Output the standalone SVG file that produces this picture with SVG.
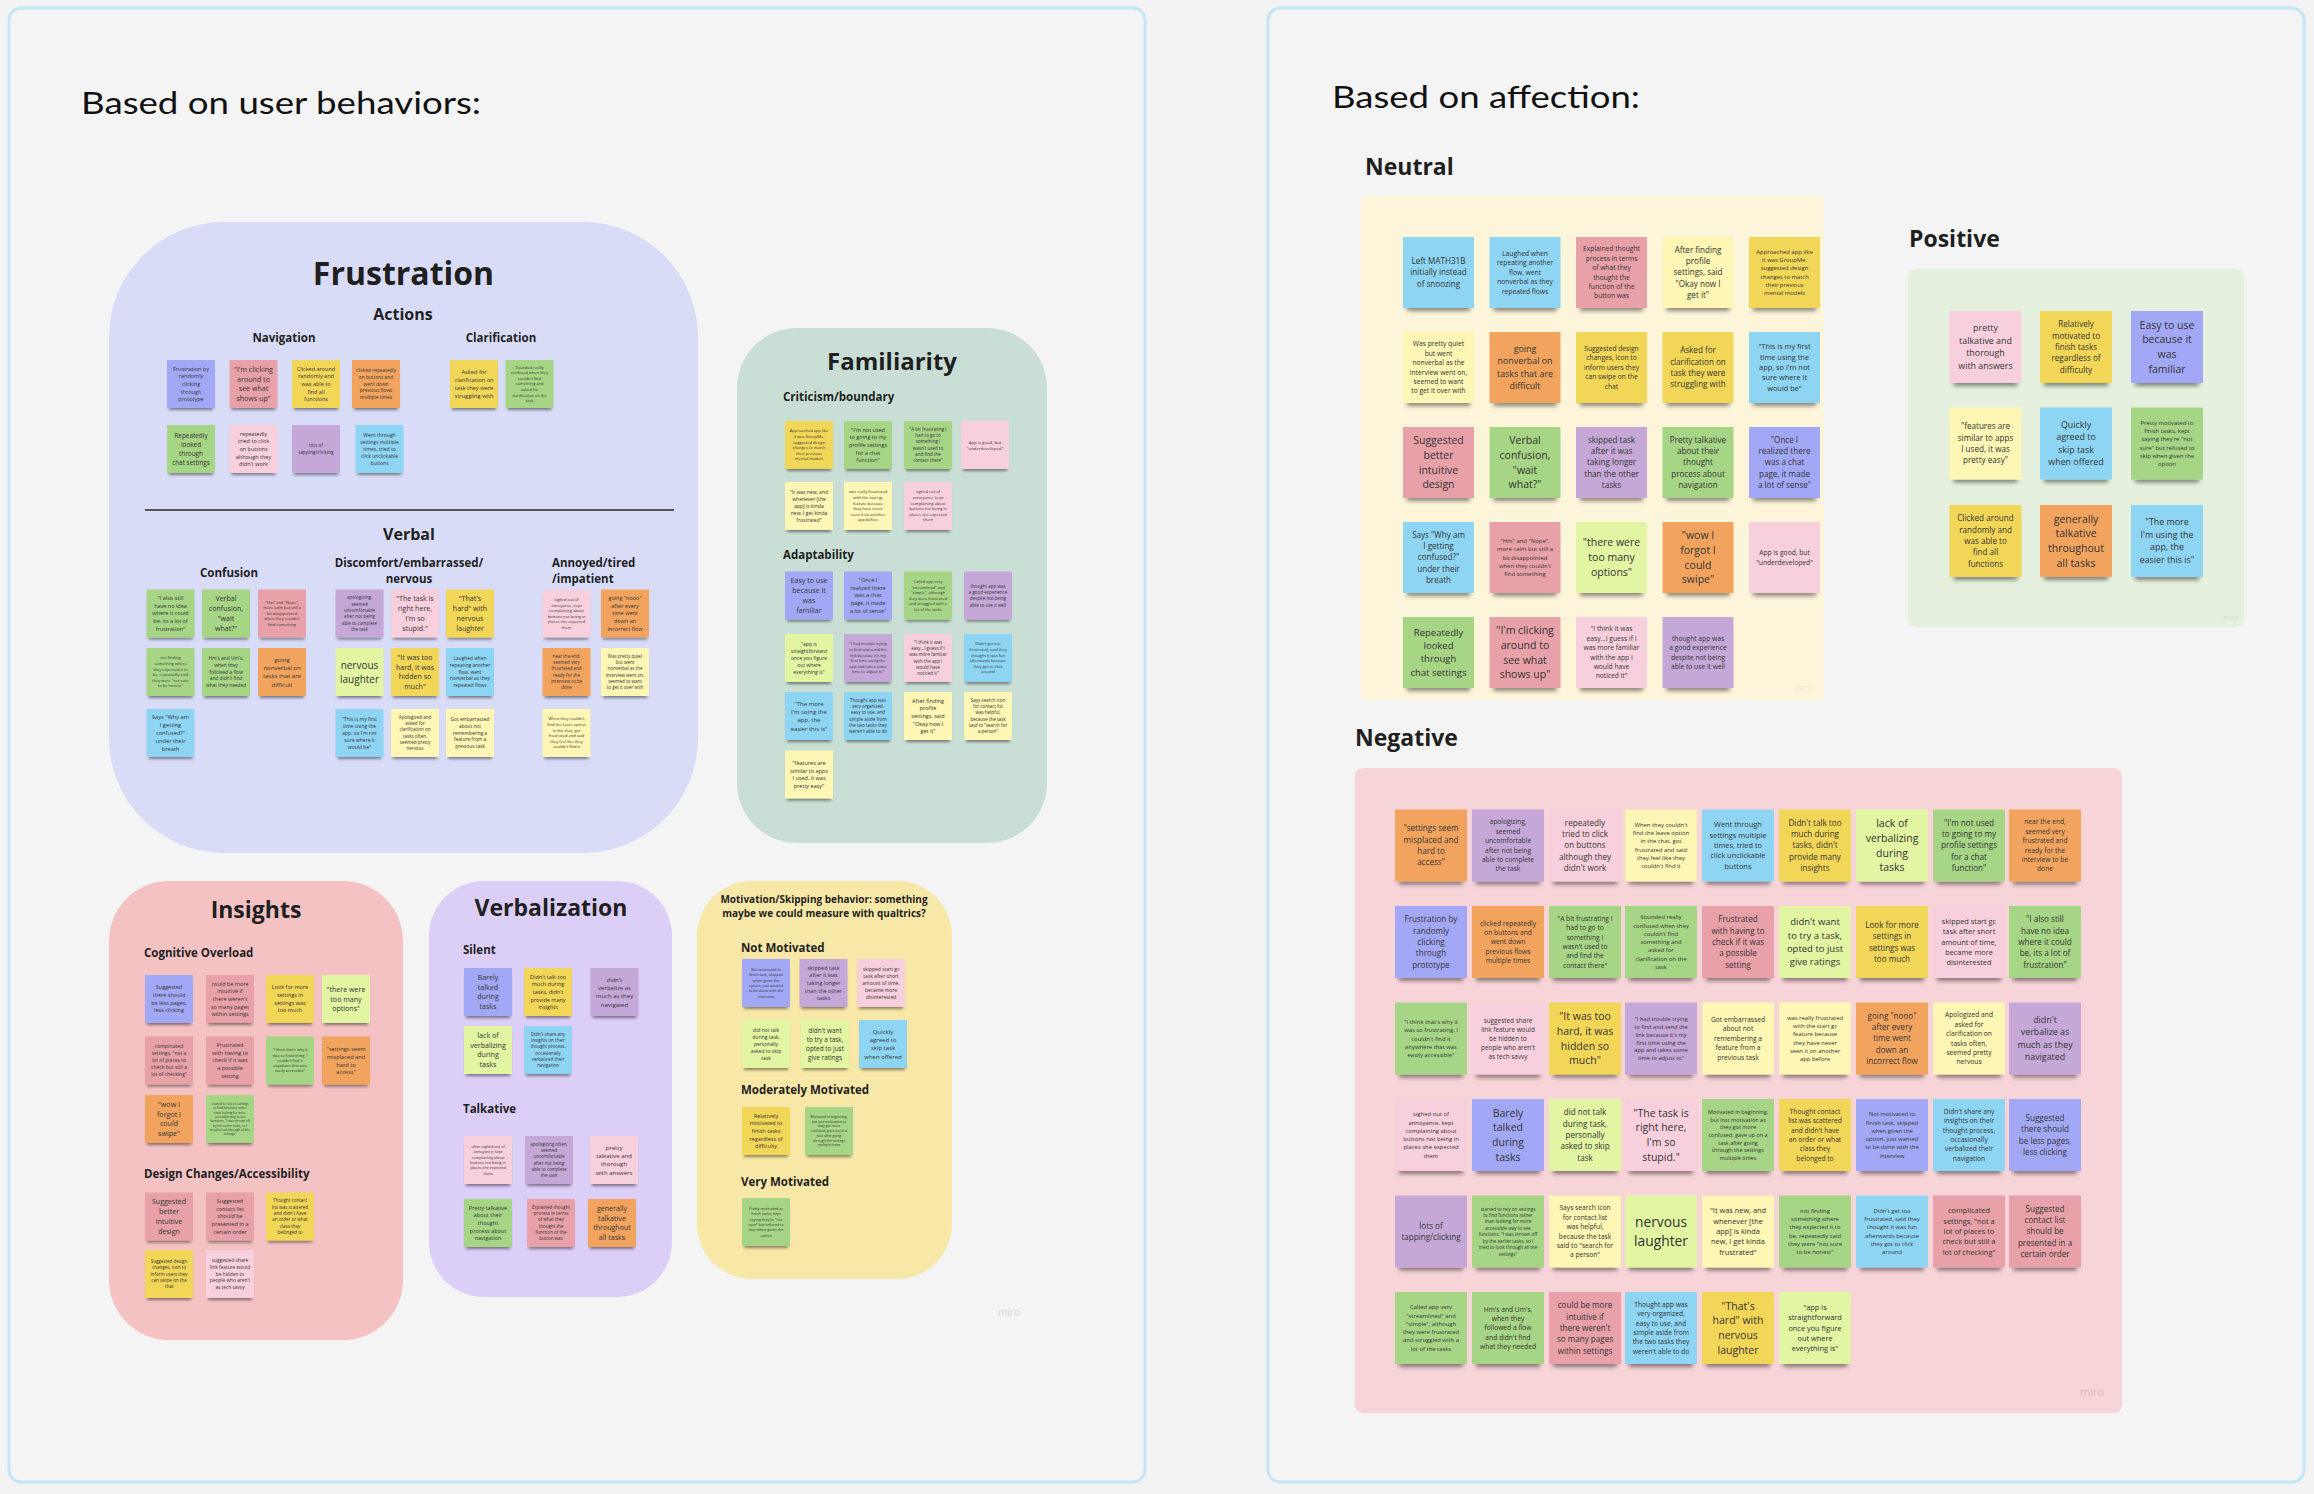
<svg xmlns="http://www.w3.org/2000/svg" width="2314" height="1494" viewBox="0 0 2314 1494">
<style>
text{font-family:"Open Sans","Noto Sans","Liberation Sans",sans-serif}
.h{font-weight:700;fill:#1f1f1f}
.ttl{font-family:Lato,"Open Sans",sans-serif;font-weight:400;fill:#111;font-size:31px}
.s text{fill:#333;text-anchor:middle}
.L use{filter:url(#sa)}
.R use{filter:url(#sb)}
.mi{fill:#d6d6d6;font-size:10px;text-anchor:middle}
.vi{fill:#a3a8f6}.bl{fill:#8ed5f3}.dp{fill:#e8a1a8}.ly{fill:#fdf6b4}.ye{fill:#f2d659}.or{fill:#f2a45e}.gr{fill:#a6d586}.li{fill:#e1f5a2}.pu{fill:#c6a8d8}.lp{fill:#f8d0dd}
.f31{font-size:3.1px}.f34{font-size:3.4px}.f38{font-size:3.8px}.f40{font-size:4px}.f43{font-size:4.3px}.f45{font-size:4.5px}.f46{font-size:4.6px}.f48{font-size:4.8px}.f50{font-size:5px}.f55{font-size:5.5px}.f57{font-size:5.7px}.f59{font-size:5.9px}.f60{font-size:6px}.f64{font-size:6.4px}.f67{font-size:6.7px}.f71{font-size:7.1px}.f74{font-size:7.4px}.f81{font-size:8.1px}.f89{font-size:8.9px}.f95{font-size:9.5px}.f100{font-size:10px}.f105{font-size:10.5px}.f138{font-size:13.8px}
</style>
<defs>
<rect id="A" x="-24" y="-24" width="48" height="48"/>
<rect id="B" x="-35.5" y="-35.5" width="71" height="71"/>
<rect id="C" x="-36" y="-36" width="72" height="72"/>
<filter id="sa" x="-20%" y="-20%" width="140%" height="150%">
<feMorphology in="SourceAlpha" operator="erode" radius="2"/>
<feGaussianBlur stdDeviation="1.4"/>
<feOffset dy="4" result="o"/>
<feFlood flood-color="#000" flood-opacity=".45"/>
<feComposite in2="o" operator="in"/>
<feMerge><feMergeNode/><feMergeNode in="SourceGraphic"/></feMerge>
</filter>
<filter id="sb" x="-20%" y="-20%" width="140%" height="150%">
<feMorphology in="SourceAlpha" operator="erode" radius="4"/>
<feGaussianBlur stdDeviation="2.2"/>
<feOffset dy="7" result="o"/>
<feFlood flood-color="#000" flood-opacity=".45"/>
<feComposite in2="o" operator="in"/>
<feMerge><feMergeNode/><feMergeNode in="SourceGraphic"/></feMerge>
</filter>
</defs>
<rect width="2314" height="1494" fill="#f3f3f3"/>
<g id="frame-left">
<rect x="9" y="8" width="1136" height="1474" rx="12" fill="#f4f4f4" stroke="#c4e6f7" stroke-width="3"/>
<text class="ttl" x="81" y="114" textLength="400" lengthAdjust="spacingAndGlyphs">Based on user behaviors:</text>
<text class="mi" x="1009" y="1316">miro</text>
</g>
<g id="frame-right">
<rect x="1268" y="8" width="1036" height="1474" rx="12" fill="#f4f4f4" stroke="#c4e6f7" stroke-width="3"/>
<text class="ttl" x="1332" y="108" textLength="308" lengthAdjust="spacingAndGlyphs">Based on affection:</text>
</g>
<g id="connectors"></g>

<g id="frustration" class="L">
<rect x="109" y="222" width="589" height="631" rx="115" fill="#d9dcf7"/>
<text class="h" x="403.5" y="285" font-size="32" text-anchor="middle">Frustration</text>
<text class="h" x="403" y="320" font-size="16" text-anchor="middle">Actions</text>
<text class="h" x="284" y="342" font-size="11.5" text-anchor="middle">Navigation</text>
<text class="h" x="501" y="342" font-size="11.5" text-anchor="middle">Clarification</text>
<line x1="145" y1="510" x2="674" y2="510" stroke="#555" stroke-width="2"/>
<text class="h" x="409" y="540" font-size="16" text-anchor="middle">Verbal</text>
<text class="h" x="229" y="577" font-size="11.5" text-anchor="middle">Confusion</text>
<text class="h" x="409" y="567" font-size="11.5" text-anchor="middle">Discomfort/embarrassed/</text>
<text class="h" x="409" y="583" font-size="11.5" text-anchor="middle">nervous</text>
<text class="h" x="552" y="567" font-size="11.5">Annoyed/tired</text>
<text class="h" x="552" y="583" font-size="11.5">/impatient</text>
<g id="fn1" class="s" transform="translate(191,384)"><use href="#A" class="vi"/><text class="f55"><tspan x="0" dy="-2.45em">Frustration by</tspan><tspan x="0" dy="1.4em">randomly</tspan><tspan x="0" dy="1.4em">clicking</tspan><tspan x="0" dy="1.4em">through</tspan><tspan x="0" dy="1.4em">prototype</tspan></text></g>
<g id="fn2" class="s" transform="translate(253.5,384)"><use href="#A" class="dp"/><text class="f71"><tspan x="0" dy="-1.75em">"I'm clicking</tspan><tspan x="0" dy="1.4em">around to</tspan><tspan x="0" dy="1.4em">see what</tspan><tspan x="0" dy="1.4em">shows up"</tspan></text></g>
<g id="fn3" class="s" transform="translate(316,384)"><use href="#A" class="ye"/><text class="f55"><tspan x="0" dy="-2.45em">Clicked around</tspan><tspan x="0" dy="1.4em">randomly and</tspan><tspan x="0" dy="1.4em">was able to</tspan><tspan x="0" dy="1.4em">find all</tspan><tspan x="0" dy="1.4em">functions</tspan></text></g>
<g id="fn4" class="s" transform="translate(376,384)"><use href="#A" class="or"/><text class="f48"><tspan x="0" dy="-2.45em">clicked repeatedly</tspan><tspan x="0" dy="1.4em">on buttons and</tspan><tspan x="0" dy="1.4em">went down</tspan><tspan x="0" dy="1.4em">previous flows</tspan><tspan x="0" dy="1.4em">multiple times</tspan></text></g>
<g id="fn5" class="s" transform="translate(191,449)"><use href="#A" class="gr"/><text class="f64"><tspan x="0" dy="-1.75em">Repeatedly</tspan><tspan x="0" dy="1.4em">looked</tspan><tspan x="0" dy="1.4em">through</tspan><tspan x="0" dy="1.4em">chat settings</tspan></text></g>
<g id="fn6" class="s" transform="translate(253.5,449)"><use href="#A" class="lp"/><text class="f55"><tspan x="0" dy="-2.45em">repeatedly</tspan><tspan x="0" dy="1.4em">tried to click</tspan><tspan x="0" dy="1.4em">on buttons</tspan><tspan x="0" dy="1.4em">although they</tspan><tspan x="0" dy="1.4em">didn't work</tspan></text></g>
<g id="fn7" class="s" transform="translate(316,449)"><use href="#A" class="pu"/><text class="f48"><tspan x="0" dy="-.35em">lots of</tspan><tspan x="0" dy="1.4em">tapping/clicking</tspan></text></g>
<g id="fn8" class="s" transform="translate(379.5,449)"><use href="#A" class="bl"/><text class="f50"><tspan x="0" dy="-2.45em">Went through</tspan><tspan x="0" dy="1.4em">settings multiple</tspan><tspan x="0" dy="1.4em">times, tried to</tspan><tspan x="0" dy="1.4em">click unclickable</tspan><tspan x="0" dy="1.4em">buttons</tspan></text></g>
<g id="fc1" class="s" transform="translate(474,384)"><use href="#A" class="ye"/><text class="f57"><tspan x="0" dy="-1.75em">Asked for</tspan><tspan x="0" dy="1.4em">clarification on</tspan><tspan x="0" dy="1.4em">task they were</tspan><tspan x="0" dy="1.4em">struggling with</tspan></text></g>
<g id="fc2" class="s" transform="translate(529.5,384)"><use href="#A" class="gr"/><text class="f40"><tspan x="0" dy="-3.85em">Sounded really</tspan><tspan x="0" dy="1.4em">confused when they</tspan><tspan x="0" dy="1.4em">couldn't find</tspan><tspan x="0" dy="1.4em">something and</tspan><tspan x="0" dy="1.4em">asked for</tspan><tspan x="0" dy="1.4em">clarification on the</tspan><tspan x="0" dy="1.4em">task</tspan></text></g>
<g id="vc1" class="s" transform="translate(170.5,613.5)"><use href="#A" class="gr"/><text class="f55"><tspan x="0" dy="-2.45em">"I also still</tspan><tspan x="0" dy="1.4em">have no idea</tspan><tspan x="0" dy="1.4em">where it could</tspan><tspan x="0" dy="1.4em">be, its a lot of</tspan><tspan x="0" dy="1.4em">frustration"</tspan></text></g>
<g id="vc2" class="s" transform="translate(226,613.5)"><use href="#A" class="gr"/><text class="f71"><tspan x="0" dy="-1.75em">Verbal</tspan><tspan x="0" dy="1.4em">confusion,</tspan><tspan x="0" dy="1.4em">"wait</tspan><tspan x="0" dy="1.4em">what?"</tspan></text></g>
<g id="vc3" class="s" transform="translate(282,613.5)"><use href="#A" class="dp"/><text class="f40"><tspan x="0" dy="-2.45em">"Hm" and "Nope",</tspan><tspan x="0" dy="1.4em">more calm but still a</tspan><tspan x="0" dy="1.4em">bit disappointed</tspan><tspan x="0" dy="1.4em">when they couldn't</tspan><tspan x="0" dy="1.4em">find something</tspan></text></g>
<g id="vc4" class="s" transform="translate(170.5,672)"><use href="#A" class="gr"/><text class="f40"><tspan x="0" dy="-3.15em">not finding</tspan><tspan x="0" dy="1.4em">something where</tspan><tspan x="0" dy="1.4em">they expected it to</tspan><tspan x="0" dy="1.4em">be, repeatedly said</tspan><tspan x="0" dy="1.4em">they were "not sure</tspan><tspan x="0" dy="1.4em">to be honest"</tspan></text></g>
<g id="vc5" class="s" transform="translate(226,672)"><use href="#A" class="gr"/><text class="f48"><tspan x="0" dy="-2.45em">Hm's and Um's,</tspan><tspan x="0" dy="1.4em">when they</tspan><tspan x="0" dy="1.4em">followed a flow</tspan><tspan x="0" dy="1.4em">and didn't find</tspan><tspan x="0" dy="1.4em">what they needed</tspan></text></g>
<g id="vc6" class="s" transform="translate(282,672)"><use href="#A" class="or"/><text class="f60"><tspan x="0" dy="-1.75em">going</tspan><tspan x="0" dy="1.4em">nonverbal on</tspan><tspan x="0" dy="1.4em">tasks that are</tspan><tspan x="0" dy="1.4em">difficult</tspan></text></g>
<g id="vc7" class="s" transform="translate(170.5,733)"><use href="#A" class="bl"/><text class="f57"><tspan x="0" dy="-2.45em">Says "Why am</tspan><tspan x="0" dy="1.4em">I getting</tspan><tspan x="0" dy="1.4em">confused?"</tspan><tspan x="0" dy="1.4em">under their</tspan><tspan x="0" dy="1.4em">breath</tspan></text></g>
<g id="vd1" class="s" transform="translate(359.5,613.5)"><use href="#A" class="pu"/><text class="f45"><tspan x="0" dy="-3.15em">apologizing,</tspan><tspan x="0" dy="1.4em">seemed</tspan><tspan x="0" dy="1.4em">uncomfortable</tspan><tspan x="0" dy="1.4em">after not being</tspan><tspan x="0" dy="1.4em">able to complete</tspan><tspan x="0" dy="1.4em">the task</tspan></text></g>
<g id="vd2" class="s" transform="translate(415,613.5)"><use href="#A" class="lp"/><text class="f71"><tspan x="0" dy="-1.75em">"The task is</tspan><tspan x="0" dy="1.4em">right here,</tspan><tspan x="0" dy="1.4em">I'm so</tspan><tspan x="0" dy="1.4em">stupid."</tspan></text></g>
<g id="vd3" class="s" transform="translate(470,613.5)"><use href="#A" class="ye"/><text class="f71"><tspan x="0" dy="-1.75em">"That's</tspan><tspan x="0" dy="1.4em">hard" with</tspan><tspan x="0" dy="1.4em">nervous</tspan><tspan x="0" dy="1.4em">laughter</tspan></text></g>
<g id="vd4" class="s" transform="translate(359.5,672)"><use href="#A" class="li"/><text class="f100"><tspan x="0" dy="-.35em">nervous</tspan><tspan x="0" dy="1.4em">laughter</tspan></text></g>
<g id="vd5" class="s" transform="translate(415,672)"><use href="#A" class="ye"/><text class="f71"><tspan x="0" dy="-1.75em">"It was too</tspan><tspan x="0" dy="1.4em">hard, it was</tspan><tspan x="0" dy="1.4em">hidden so</tspan><tspan x="0" dy="1.4em">much"</tspan></text></g>
<g id="vd6" class="s" transform="translate(470,672)"><use href="#A" class="bl"/><text class="f48"><tspan x="0" dy="-2.45em">Laughed when</tspan><tspan x="0" dy="1.4em">repeating another</tspan><tspan x="0" dy="1.4em">flow, went</tspan><tspan x="0" dy="1.4em">nonverbal as they</tspan><tspan x="0" dy="1.4em">repeated flows</tspan></text></g>
<g id="vd7" class="s" transform="translate(359.5,733)"><use href="#A" class="bl"/><text class="f50"><tspan x="0" dy="-2.45em">"This is my first</tspan><tspan x="0" dy="1.4em">time using the</tspan><tspan x="0" dy="1.4em">app, so I'm not</tspan><tspan x="0" dy="1.4em">sure where it</tspan><tspan x="0" dy="1.4em">would be"</tspan></text></g>
<g id="vd8" class="s" transform="translate(415,733)"><use href="#A" class="ly"/><text class="f45"><tspan x="0" dy="-3.15em">Apologized and</tspan><tspan x="0" dy="1.4em">asked for</tspan><tspan x="0" dy="1.4em">clarification on</tspan><tspan x="0" dy="1.4em">tasks often,</tspan><tspan x="0" dy="1.4em">seemed pretty</tspan><tspan x="0" dy="1.4em">nervous</tspan></text></g>
<g id="vd9" class="s" transform="translate(470,733)"><use href="#A" class="ly"/><text class="f48"><tspan x="0" dy="-2.45em">Got embarrassed</tspan><tspan x="0" dy="1.4em">about not</tspan><tspan x="0" dy="1.4em">remembering a</tspan><tspan x="0" dy="1.4em">feature from a</tspan><tspan x="0" dy="1.4em">previous task</tspan></text></g>
<g id="va1" class="s" transform="translate(566.5,613.5)"><use href="#A" class="lp"/><text class="f40"><tspan x="0" dy="-3.15em">sighed out of</tspan><tspan x="0" dy="1.4em">annoyance, kept</tspan><tspan x="0" dy="1.4em">complaining about</tspan><tspan x="0" dy="1.4em">buttons not being in</tspan><tspan x="0" dy="1.4em">places she expected</tspan><tspan x="0" dy="1.4em">them</tspan></text></g>
<g id="va2" class="s" transform="translate(625,613.5)"><use href="#A" class="or"/><text class="f55"><tspan x="0" dy="-2.45em">going "nooo"</tspan><tspan x="0" dy="1.4em">after every</tspan><tspan x="0" dy="1.4em">time went</tspan><tspan x="0" dy="1.4em">down an</tspan><tspan x="0" dy="1.4em">incorrect flow</tspan></text></g>
<g id="va3" class="s" transform="translate(566.5,672)"><use href="#A" class="or"/><text class="f45"><tspan x="0" dy="-3.15em">near the end,</tspan><tspan x="0" dy="1.4em">seemed very</tspan><tspan x="0" dy="1.4em">frustrated and</tspan><tspan x="0" dy="1.4em">ready for the</tspan><tspan x="0" dy="1.4em">interview to be</tspan><tspan x="0" dy="1.4em">done</tspan></text></g>
<g id="va4" class="s" transform="translate(625,672)"><use href="#A" class="ly"/><text class="f45"><tspan x="0" dy="-3.15em">Was pretty quiet</tspan><tspan x="0" dy="1.4em">but went</tspan><tspan x="0" dy="1.4em">nonverbal as the</tspan><tspan x="0" dy="1.4em">interview went on,</tspan><tspan x="0" dy="1.4em">seemed to want</tspan><tspan x="0" dy="1.4em">to get it over with</tspan></text></g>
<g id="va5" class="s" transform="translate(566.5,733)"><use href="#A" class="ly"/><text class="f40"><tspan x="0" dy="-3.15em">When they couldn't</tspan><tspan x="0" dy="1.4em">find the leave option</tspan><tspan x="0" dy="1.4em">in the chat, got</tspan><tspan x="0" dy="1.4em">frustrated and said</tspan><tspan x="0" dy="1.4em">they feel like they</tspan><tspan x="0" dy="1.4em">couldn't find it</tspan></text></g>
</g>

<g id="familiarity" class="L">
<rect x="737" y="328" width="310" height="515" rx="60" fill="#c9dfd5"/>
<text class="h" x="892" y="370" font-size="24" text-anchor="middle">Familiarity</text>
<text class="h" x="783" y="401" font-size="11.5">Criticism/boundary</text>
<text class="h" x="783" y="559" font-size="11.5">Adaptability</text>
<g id="fm1" class="s" transform="translate(809,445)"><use href="#A" class="ye"/><text class="f40"><tspan x="0" dy="-3.15em">Approached app like</tspan><tspan x="0" dy="1.4em">it was GroupMe,</tspan><tspan x="0" dy="1.4em">suggested design</tspan><tspan x="0" dy="1.4em">changes to match</tspan><tspan x="0" dy="1.4em">their previous</tspan><tspan x="0" dy="1.4em">mental models</tspan></text></g>
<g id="fm2" class="s" transform="translate(868,445)"><use href="#A" class="gr"/><text class="f55"><tspan x="0" dy="-2.45em">"I'm not used</tspan><tspan x="0" dy="1.4em">to going to my</tspan><tspan x="0" dy="1.4em">profile settings</tspan><tspan x="0" dy="1.4em">for a chat</tspan><tspan x="0" dy="1.4em">function"</tspan></text></g>
<g id="fm3" class="s" transform="translate(928,445)"><use href="#A" class="gr"/><text class="f45"><tspan x="0" dy="-3.15em">"A bit frustrating I</tspan><tspan x="0" dy="1.4em">had to go to</tspan><tspan x="0" dy="1.4em">something I</tspan><tspan x="0" dy="1.4em">wasn't used to</tspan><tspan x="0" dy="1.4em">and find the</tspan><tspan x="0" dy="1.4em">contact there"</tspan></text></g>
<g id="fm4" class="s" transform="translate(985,445)"><use href="#A" class="lp"/><text class="f43"><tspan x="0" dy="-.35em">App is good, but</tspan><tspan x="0" dy="1.4em">"underdeveloped"</tspan></text></g>
<g id="fm5" class="s" transform="translate(809,506)"><use href="#A" class="ly"/><text class="f50"><tspan x="0" dy="-2.45em">"It was new, and</tspan><tspan x="0" dy="1.4em">whenever [the</tspan><tspan x="0" dy="1.4em">app] is kinda</tspan><tspan x="0" dy="1.4em">new, I get kinda</tspan><tspan x="0" dy="1.4em">frustrated"</tspan></text></g>
<g id="fm6" class="s" transform="translate(868,506)"><use href="#A" class="ly"/><text class="f40"><tspan x="0" dy="-3.15em">was really frustrated</tspan><tspan x="0" dy="1.4em">with the start gc</tspan><tspan x="0" dy="1.4em">feature because</tspan><tspan x="0" dy="1.4em">they have never</tspan><tspan x="0" dy="1.4em">seen it on another</tspan><tspan x="0" dy="1.4em">app before</tspan></text></g>
<g id="fm7" class="s" transform="translate(928,506)"><use href="#A" class="lp"/><text class="f40"><tspan x="0" dy="-3.15em">sighed out of</tspan><tspan x="0" dy="1.4em">annoyance, kept</tspan><tspan x="0" dy="1.4em">complaining about</tspan><tspan x="0" dy="1.4em">buttons not being in</tspan><tspan x="0" dy="1.4em">places she expected</tspan><tspan x="0" dy="1.4em">them</tspan></text></g>
<g id="fa1" class="s" transform="translate(809,595.5)"><use href="#A" class="vi"/><text class="f71"><tspan x="0" dy="-1.75em">Easy to use</tspan><tspan x="0" dy="1.4em">because it</tspan><tspan x="0" dy="1.4em">was</tspan><tspan x="0" dy="1.4em">familiar</tspan></text></g>
<g id="fa2" class="s" transform="translate(868,595.5)"><use href="#A" class="vi"/><text class="f55"><tspan x="0" dy="-2.45em">"Once I</tspan><tspan x="0" dy="1.4em">realized there</tspan><tspan x="0" dy="1.4em">was a chat</tspan><tspan x="0" dy="1.4em">page, it made</tspan><tspan x="0" dy="1.4em">a lot of sense"</tspan></text></g>
<g id="fa3" class="s" transform="translate(928,595.5)"><use href="#A" class="gr"/><text class="f40"><tspan x="0" dy="-3.15em">Called app very</tspan><tspan x="0" dy="1.4em">"streamlined" and</tspan><tspan x="0" dy="1.4em">"simple", although</tspan><tspan x="0" dy="1.4em">they were frustrated</tspan><tspan x="0" dy="1.4em">and struggled with a</tspan><tspan x="0" dy="1.4em">lot of the tasks</tspan></text></g>
<g id="fa4" class="s" transform="translate(988,595.5)"><use href="#A" class="pu"/><text class="f45"><tspan x="0" dy="-1.75em">thought app was</tspan><tspan x="0" dy="1.4em">a good experience</tspan><tspan x="0" dy="1.4em">despite not being</tspan><tspan x="0" dy="1.4em">able to use it well</tspan></text></g>
<g id="fa5" class="s" transform="translate(809,658)"><use href="#A" class="li"/><text class="f50"><tspan x="0" dy="-2.45em">"app is</tspan><tspan x="0" dy="1.4em">straightforward</tspan><tspan x="0" dy="1.4em">once you figure</tspan><tspan x="0" dy="1.4em">out where</tspan><tspan x="0" dy="1.4em">everything is"</tspan></text></g>
<g id="fa6" class="s" transform="translate(868,658)"><use href="#A" class="pu"/><text class="f40"><tspan x="0" dy="-3.15em">"I had trouble trying</tspan><tspan x="0" dy="1.4em">to find and send the</tspan><tspan x="0" dy="1.4em">link because it's my</tspan><tspan x="0" dy="1.4em">first time using the</tspan><tspan x="0" dy="1.4em">app and takes some</tspan><tspan x="0" dy="1.4em">time to adjust to"</tspan></text></g>
<g id="fa7" class="s" transform="translate(928,658)"><use href="#A" class="lp"/><text class="f45"><tspan x="0" dy="-3.15em">"I think it was</tspan><tspan x="0" dy="1.4em">easy...I guess if I</tspan><tspan x="0" dy="1.4em">was more familiar</tspan><tspan x="0" dy="1.4em">with the app I</tspan><tspan x="0" dy="1.4em">would have</tspan><tspan x="0" dy="1.4em">noticed it"</tspan></text></g>
<g id="fa8" class="s" transform="translate(988,658)"><use href="#A" class="bl"/><text class="f40"><tspan x="0" dy="-3.15em">Didn't get too</tspan><tspan x="0" dy="1.4em">frustrated, said they</tspan><tspan x="0" dy="1.4em">thought it was fun</tspan><tspan x="0" dy="1.4em">afterwards because</tspan><tspan x="0" dy="1.4em">they got to click</tspan><tspan x="0" dy="1.4em">around</tspan></text></g>
<g id="fa9" class="s" transform="translate(809,716)"><use href="#A" class="bl"/><text class="f60"><tspan x="0" dy="-1.75em">"The more</tspan><tspan x="0" dy="1.4em">I'm using the</tspan><tspan x="0" dy="1.4em">app, the</tspan><tspan x="0" dy="1.4em">easier this is"</tspan></text></g>
<g id="fa10" class="s" transform="translate(868,716)"><use href="#A" class="bl"/><text class="f45"><tspan x="0" dy="-3.15em">Thought app was</tspan><tspan x="0" dy="1.4em">very organized,</tspan><tspan x="0" dy="1.4em">easy to use, and</tspan><tspan x="0" dy="1.4em">simple aside from</tspan><tspan x="0" dy="1.4em">the two tasks they</tspan><tspan x="0" dy="1.4em">weren't able to do</tspan></text></g>
<g id="fa11" class="s" transform="translate(928,716)"><use href="#A" class="ly"/><text class="f55"><tspan x="0" dy="-2.45em">After finding</tspan><tspan x="0" dy="1.4em">profile</tspan><tspan x="0" dy="1.4em">settings, said</tspan><tspan x="0" dy="1.4em">"Okay now I</tspan><tspan x="0" dy="1.4em">get it"</tspan></text></g>
<g id="fa12" class="s" transform="translate(988,716)"><use href="#A" class="ly"/><text class="f45"><tspan x="0" dy="-3.15em">Says search icon</tspan><tspan x="0" dy="1.4em">for contact list</tspan><tspan x="0" dy="1.4em">was helpful,</tspan><tspan x="0" dy="1.4em">because the task</tspan><tspan x="0" dy="1.4em">said to "search for</tspan><tspan x="0" dy="1.4em">a person"</tspan></text></g>
<g id="fa13" class="s" transform="translate(809,774.5)"><use href="#A" class="ly"/><text class="f55"><tspan x="0" dy="-1.75em">"features are</tspan><tspan x="0" dy="1.4em">similar to apps</tspan><tspan x="0" dy="1.4em">I used, it was</tspan><tspan x="0" dy="1.4em">pretty easy"</tspan></text></g>
</g>

<g id="insights" class="L">
<rect x="109" y="881" width="294" height="459" rx="60" fill="#f4c2c2"/>
<text class="h" x="256" y="918" font-size="23" text-anchor="middle">Insights</text>
<text class="h" x="144" y="957" font-size="11.5">Cognitive Overload</text>
<text class="h" x="144" y="1178" font-size="11.5">Design Changes/Accessibility</text>
<g id="ic1" class="s" transform="translate(169,999)"><use href="#A" class="vi"/><text class="f55"><tspan x="0" dy="-1.75em">Suggested</tspan><tspan x="0" dy="1.4em">there should</tspan><tspan x="0" dy="1.4em">be less pages,</tspan><tspan x="0" dy="1.4em">less clicking</tspan></text></g>
<g id="ic2" class="s" transform="translate(230,999)"><use href="#A" class="dp"/><text class="f55"><tspan x="0" dy="-2.45em">could be more</tspan><tspan x="0" dy="1.4em">intuitive if</tspan><tspan x="0" dy="1.4em">there weren't</tspan><tspan x="0" dy="1.4em">so many pages</tspan><tspan x="0" dy="1.4em">within settings</tspan></text></g>
<g id="ic3" class="s" transform="translate(290,999)"><use href="#A" class="ye"/><text class="f55"><tspan x="0" dy="-1.75em">Look for more</tspan><tspan x="0" dy="1.4em">settings in</tspan><tspan x="0" dy="1.4em">settings was</tspan><tspan x="0" dy="1.4em">too much</tspan></text></g>
<g id="ic4" class="s" transform="translate(346,999)"><use href="#A" class="li"/><text class="f71"><tspan x="0" dy="-1.05em">"there were</tspan><tspan x="0" dy="1.4em">too many</tspan><tspan x="0" dy="1.4em">options"</tspan></text></g>
<g id="ic5" class="s" transform="translate(169,1060.5)"><use href="#A" class="dp"/><text class="f50"><tspan x="0" dy="-2.45em">complicated</tspan><tspan x="0" dy="1.4em">settings, "not a</tspan><tspan x="0" dy="1.4em">lot of places to</tspan><tspan x="0" dy="1.4em">check but still a</tspan><tspan x="0" dy="1.4em">lot of checking"</tspan></text></g>
<g id="ic6" class="s" transform="translate(230,1060.5)"><use href="#A" class="dp"/><text class="f55"><tspan x="0" dy="-2.45em">Frustrated</tspan><tspan x="0" dy="1.4em">with having to</tspan><tspan x="0" dy="1.4em">check if it was</tspan><tspan x="0" dy="1.4em">a possible</tspan><tspan x="0" dy="1.4em">setting</tspan></text></g>
<g id="ic7" class="s" transform="translate(290,1060.5)"><use href="#A" class="gr"/><text class="f38"><tspan x="0" dy="-2.45em">"I think that's why it</tspan><tspan x="0" dy="1.4em">was so frustrating, I</tspan><tspan x="0" dy="1.4em">couldn't find it</tspan><tspan x="0" dy="1.4em">anywhere that was</tspan><tspan x="0" dy="1.4em">easily accessible"</tspan></text></g>
<g id="ic8" class="s" transform="translate(346,1060.5)"><use href="#A" class="or"/><text class="f57"><tspan x="0" dy="-1.75em">"settings seem</tspan><tspan x="0" dy="1.4em">misplaced and</tspan><tspan x="0" dy="1.4em">hard to</tspan><tspan x="0" dy="1.4em">access"</tspan></text></g>
<g id="ic9" class="s" transform="translate(169,1119)"><use href="#A" class="or"/><text class="f71"><tspan x="0" dy="-1.75em">"wow I</tspan><tspan x="0" dy="1.4em">forgot I</tspan><tspan x="0" dy="1.4em">could</tspan><tspan x="0" dy="1.4em">swipe"</tspan></text></g>
<g id="ic10" class="s" transform="translate(230,1119)"><use href="#A" class="gr"/><text class="f31"><tspan x="0" dy="-4.55em">started to rely on settings</tspan><tspan x="0" dy="1.4em">to find functions rather</tspan><tspan x="0" dy="1.4em">than looking for more</tspan><tspan x="0" dy="1.4em">accessible way to see</tspan><tspan x="0" dy="1.4em">functions, "I was thrown off</tspan><tspan x="0" dy="1.4em">by the earlier tasks, so I</tspan><tspan x="0" dy="1.4em">tried to look through all the</tspan><tspan x="0" dy="1.4em">settings"</tspan></text></g>
<g id="id1" class="s" transform="translate(169,1216.5)"><use href="#A" class="dp"/><text class="f71"><tspan x="0" dy="-1.75em">Suggested</tspan><tspan x="0" dy="1.4em">better</tspan><tspan x="0" dy="1.4em">intuitive</tspan><tspan x="0" dy="1.4em">design</tspan></text></g>
<g id="id2" class="s" transform="translate(230,1216.5)"><use href="#A" class="dp"/><text class="f55"><tspan x="0" dy="-2.45em">Suggested</tspan><tspan x="0" dy="1.4em">contact list</tspan><tspan x="0" dy="1.4em">should be</tspan><tspan x="0" dy="1.4em">presented in a</tspan><tspan x="0" dy="1.4em">certain order</tspan></text></g>
<g id="id3" class="s" transform="translate(290,1216.5)"><use href="#A" class="ye"/><text class="f45"><tspan x="0" dy="-3.15em">Thought contact</tspan><tspan x="0" dy="1.4em">list was scattered</tspan><tspan x="0" dy="1.4em">and didn't have</tspan><tspan x="0" dy="1.4em">an order or what</tspan><tspan x="0" dy="1.4em">class they</tspan><tspan x="0" dy="1.4em">belonged to</tspan></text></g>
<g id="id4" class="s" transform="translate(169,1274)"><use href="#A" class="ye"/><text class="f45"><tspan x="0" dy="-2.45em">Suggested design</tspan><tspan x="0" dy="1.4em">changes, icon to</tspan><tspan x="0" dy="1.4em">inform users they</tspan><tspan x="0" dy="1.4em">can swipe on the</tspan><tspan x="0" dy="1.4em">chat</tspan></text></g>
<g id="id5" class="s" transform="translate(230,1274)"><use href="#A" class="lp"/><text class="f48"><tspan x="0" dy="-2.45em">suggested share</tspan><tspan x="0" dy="1.4em">link feature would</tspan><tspan x="0" dy="1.4em">be hidden to</tspan><tspan x="0" dy="1.4em">people who aren't</tspan><tspan x="0" dy="1.4em">as tech savvy</tspan></text></g>
</g>

<g id="verbalization" class="L">
<rect x="429" y="881" width="243" height="416" rx="55" fill="#dbcef7"/>
<text class="h" x="551" y="916" font-size="23" text-anchor="middle">Verbalization</text>
<text class="h" x="463" y="954" font-size="11.5">Silent</text>
<text class="h" x="463" y="1113" font-size="11.5">Talkative</text>
<g id="vs1" class="s" transform="translate(488,992)"><use href="#A" class="vi"/><text class="f71"><tspan x="0" dy="-1.75em">Barely</tspan><tspan x="0" dy="1.4em">talked</tspan><tspan x="0" dy="1.4em">during</tspan><tspan x="0" dy="1.4em">tasks</tspan></text></g>
<g id="vs2" class="s" transform="translate(548,992)"><use href="#A" class="ye"/><text class="f55"><tspan x="0" dy="-2.45em">Didn't talk too</tspan><tspan x="0" dy="1.4em">much during</tspan><tspan x="0" dy="1.4em">tasks, didn't</tspan><tspan x="0" dy="1.4em">provide many</tspan><tspan x="0" dy="1.4em">insights</tspan></text></g>
<g id="vs3" class="s" transform="translate(614.5,992)"><use href="#A" class="pu"/><text class="f60"><tspan x="0" dy="-1.75em">didn't</tspan><tspan x="0" dy="1.4em">verbalize as</tspan><tspan x="0" dy="1.4em">much as they</tspan><tspan x="0" dy="1.4em">navigated</tspan></text></g>
<g id="vs4" class="s" transform="translate(488,1050)"><use href="#A" class="li"/><text class="f71"><tspan x="0" dy="-1.75em">lack of</tspan><tspan x="0" dy="1.4em">verbalizing</tspan><tspan x="0" dy="1.4em">during</tspan><tspan x="0" dy="1.4em">tasks</tspan></text></g>
<g id="vs5" class="s" transform="translate(548,1050)"><use href="#A" class="bl"/><text class="f45"><tspan x="0" dy="-3.15em">Didn't share any</tspan><tspan x="0" dy="1.4em">insights on their</tspan><tspan x="0" dy="1.4em">thought process,</tspan><tspan x="0" dy="1.4em">occasionally</tspan><tspan x="0" dy="1.4em">verbalized their</tspan><tspan x="0" dy="1.4em">navigation</tspan></text></g>
<g id="vt1" class="s" transform="translate(488,1160)"><use href="#A" class="lp"/><text class="f38"><tspan x="0" dy="-3.15em">often sighed out of</tspan><tspan x="0" dy="1.4em">annoyance, kept</tspan><tspan x="0" dy="1.4em">complaining about</tspan><tspan x="0" dy="1.4em">buttons not being in</tspan><tspan x="0" dy="1.4em">places she expected</tspan><tspan x="0" dy="1.4em">them</tspan></text></g>
<g id="vt2" class="s" transform="translate(549,1160)"><use href="#A" class="pu"/><text class="f45"><tspan x="0" dy="-3.15em">apologizing often,</tspan><tspan x="0" dy="1.4em">seemed</tspan><tspan x="0" dy="1.4em">uncomfortable</tspan><tspan x="0" dy="1.4em">after not being</tspan><tspan x="0" dy="1.4em">able to complete</tspan><tspan x="0" dy="1.4em">the task</tspan></text></g>
<g id="vt3" class="s" transform="translate(614,1160)"><use href="#A" class="lp"/><text class="f60"><tspan x="0" dy="-1.75em">pretty</tspan><tspan x="0" dy="1.4em">talkative and</tspan><tspan x="0" dy="1.4em">thorough</tspan><tspan x="0" dy="1.4em">with answers</tspan></text></g>
<g id="vt4" class="s" transform="translate(488,1223)"><use href="#A" class="gr"/><text class="f55"><tspan x="0" dy="-2.45em">Pretty talkative</tspan><tspan x="0" dy="1.4em">about their</tspan><tspan x="0" dy="1.4em">thought</tspan><tspan x="0" dy="1.4em">process about</tspan><tspan x="0" dy="1.4em">navigation</tspan></text></g>
<g id="vt5" class="s" transform="translate(551,1223)"><use href="#A" class="dp"/><text class="f45"><tspan x="0" dy="-3.15em">Explained thought</tspan><tspan x="0" dy="1.4em">process in terms</tspan><tspan x="0" dy="1.4em">of what they</tspan><tspan x="0" dy="1.4em">thought the</tspan><tspan x="0" dy="1.4em">function of the</tspan><tspan x="0" dy="1.4em">button was</tspan></text></g>
<g id="vt6" class="s" transform="translate(612,1223)"><use href="#A" class="or"/><text class="f71"><tspan x="0" dy="-1.75em">generally</tspan><tspan x="0" dy="1.4em">talkative</tspan><tspan x="0" dy="1.4em">throughout</tspan><tspan x="0" dy="1.4em">all tasks</tspan></text></g>
</g>

<g id="motivation" class="L">
<rect x="697" y="881" width="255" height="398" rx="55" fill="#f8e8a7"/>
<text class="h" x="824" y="903" font-size="10" text-anchor="middle">Motivation/Skipping behavior: something</text>
<text class="h" x="824" y="917" font-size="10" text-anchor="middle">maybe we could measure with qualtrics?</text>
<text class="h" x="741" y="952" font-size="11.5">Not Motivated</text>
<text class="h" x="741" y="1094" font-size="11.5">Moderately Motivated</text>
<text class="h" x="741" y="1186" font-size="11.5">Very Motivated</text>
<g id="mn1" class="s" transform="translate(766,983)"><use href="#A" class="vi"/><text class="f38"><tspan x="0" dy="-3.15em">Not motivated to</tspan><tspan x="0" dy="1.4em">finish task, skipped</tspan><tspan x="0" dy="1.4em">when given the</tspan><tspan x="0" dy="1.4em">option, just wanted</tspan><tspan x="0" dy="1.4em">to be done with the</tspan><tspan x="0" dy="1.4em">interview</tspan></text></g>
<g id="mn2" class="s" transform="translate(823.5,983)"><use href="#A" class="pu"/><text class="f55"><tspan x="0" dy="-2.45em">skipped task</tspan><tspan x="0" dy="1.4em">after it was</tspan><tspan x="0" dy="1.4em">taking longer</tspan><tspan x="0" dy="1.4em">than the other</tspan><tspan x="0" dy="1.4em">tasks</tspan></text></g>
<g id="mn3" class="s" transform="translate(881,983)"><use href="#A" class="lp"/><text class="f50"><tspan x="0" dy="-2.45em">skipped start gc</tspan><tspan x="0" dy="1.4em">task after short</tspan><tspan x="0" dy="1.4em">amount of time,</tspan><tspan x="0" dy="1.4em">became more</tspan><tspan x="0" dy="1.4em">disinterested</tspan></text></g>
<g id="mn4" class="s" transform="translate(766,1044)"><use href="#A" class="li"/><text class="f50"><tspan x="0" dy="-2.45em">did not talk</tspan><tspan x="0" dy="1.4em">during task,</tspan><tspan x="0" dy="1.4em">personally</tspan><tspan x="0" dy="1.4em">asked to skip</tspan><tspan x="0" dy="1.4em">task</tspan></text></g>
<g id="mn5" class="s" transform="translate(825,1044)"><use href="#A" class="li"/><text class="f64"><tspan x="0" dy="-1.75em">didn't want</tspan><tspan x="0" dy="1.4em">to try a task,</tspan><tspan x="0" dy="1.4em">opted to just</tspan><tspan x="0" dy="1.4em">give ratings</tspan></text></g>
<g id="mn6" class="s" transform="translate(883,1044)"><use href="#A" class="bl"/><text class="f60"><tspan x="0" dy="-1.75em">Quickly</tspan><tspan x="0" dy="1.4em">agreed to</tspan><tspan x="0" dy="1.4em">skip task</tspan><tspan x="0" dy="1.4em">when offered</tspan></text></g>
<g id="mm1" class="s" transform="translate(766,1131)"><use href="#A" class="ye"/><text class="f55"><tspan x="0" dy="-2.45em">Relatively</tspan><tspan x="0" dy="1.4em">motivated to</tspan><tspan x="0" dy="1.4em">finish tasks</tspan><tspan x="0" dy="1.4em">regardless of</tspan><tspan x="0" dy="1.4em">difficulty</tspan></text></g>
<g id="mm2" class="s" transform="translate(829,1131)"><use href="#A" class="gr"/><text class="f34"><tspan x="0" dy="-3.85em">Motivated in beginning,</tspan><tspan x="0" dy="1.4em">but lost motivation as</tspan><tspan x="0" dy="1.4em">they got more</tspan><tspan x="0" dy="1.4em">confused, gave up on a</tspan><tspan x="0" dy="1.4em">task after going</tspan><tspan x="0" dy="1.4em">through the settings</tspan><tspan x="0" dy="1.4em">multiple times</tspan></text></g>
<g id="mv1" class="s" transform="translate(766,1222)"><use href="#A" class="gr"/><text class="f38"><tspan x="0" dy="-3.15em">Pretty motivated to</tspan><tspan x="0" dy="1.4em">finish tasks, kept</tspan><tspan x="0" dy="1.4em">saying they're "not</tspan><tspan x="0" dy="1.4em">sure" but refused to</tspan><tspan x="0" dy="1.4em">skip when given the</tspan><tspan x="0" dy="1.4em">option</tspan></text></g>
</g>

<g id="neutral" class="R">
<text class="h" x="1365" y="175" font-size="23">Neutral</text>
<rect x="1361" y="196" width="463" height="504" rx="6" fill="#fdf5da"/>
<text class="mi" x="1803" y="690" style="fill:#efe6c4;font-size:8px">miro</text>
<g id="n11" class="s" transform="translate(1438.5,272.5)"><use href="#B" class="bl"/><text class="f81"><tspan x="0" dy="-1.05em">Left MATH31B</tspan><tspan x="0" dy="1.4em">initially instead</tspan><tspan x="0" dy="1.4em">of snoozing</tspan></text></g>
<g id="n12" class="s" transform="translate(1525,272.5)"><use href="#B" class="bl"/><text class="f67"><tspan x="0" dy="-2.45em">Laughed when</tspan><tspan x="0" dy="1.4em">repeating another</tspan><tspan x="0" dy="1.4em">flow, went</tspan><tspan x="0" dy="1.4em">nonverbal as they</tspan><tspan x="0" dy="1.4em">repeated flows</tspan></text></g>
<g id="n13" class="s" transform="translate(1611.5,272.5)"><use href="#B" class="dp"/><text class="f67"><tspan x="0" dy="-3.15em">Explained thought</tspan><tspan x="0" dy="1.4em">process in terms</tspan><tspan x="0" dy="1.4em">of what they</tspan><tspan x="0" dy="1.4em">thought the</tspan><tspan x="0" dy="1.4em">function of the</tspan><tspan x="0" dy="1.4em">button was</tspan></text></g>
<g id="n14" class="s" transform="translate(1698,272.5)"><use href="#B" class="ly"/><text class="f81"><tspan x="0" dy="-2.45em">After finding</tspan><tspan x="0" dy="1.4em">profile</tspan><tspan x="0" dy="1.4em">settings, said</tspan><tspan x="0" dy="1.4em">"Okay now I</tspan><tspan x="0" dy="1.4em">get it"</tspan></text></g>
<g id="n15" class="s" transform="translate(1784.5,272.5)"><use href="#B" class="ye"/><text class="f59"><tspan x="0" dy="-3.15em">Approached app like</tspan><tspan x="0" dy="1.4em">it was GroupMe,</tspan><tspan x="0" dy="1.4em">suggested design</tspan><tspan x="0" dy="1.4em">changes to match</tspan><tspan x="0" dy="1.4em">their previous</tspan><tspan x="0" dy="1.4em">mental models</tspan></text></g>
<g id="n21" class="s" transform="translate(1438.5,367.5)"><use href="#B" class="ly"/><text class="f67"><tspan x="0" dy="-3.15em">Was pretty quiet</tspan><tspan x="0" dy="1.4em">but went</tspan><tspan x="0" dy="1.4em">nonverbal as the</tspan><tspan x="0" dy="1.4em">interview went on,</tspan><tspan x="0" dy="1.4em">seemed to want</tspan><tspan x="0" dy="1.4em">to get it over with</tspan></text></g>
<g id="n22" class="s" transform="translate(1525,367.5)"><use href="#B" class="or"/><text class="f89"><tspan x="0" dy="-1.75em">going</tspan><tspan x="0" dy="1.4em">nonverbal on</tspan><tspan x="0" dy="1.4em">tasks that are</tspan><tspan x="0" dy="1.4em">difficult</tspan></text></g>
<g id="n23" class="s" transform="translate(1611.5,367.5)"><use href="#B" class="ye"/><text class="f67"><tspan x="0" dy="-2.45em">Suggested design</tspan><tspan x="0" dy="1.4em">changes, icon to</tspan><tspan x="0" dy="1.4em">inform users they</tspan><tspan x="0" dy="1.4em">can swipe on the</tspan><tspan x="0" dy="1.4em">chat</tspan></text></g>
<g id="n24" class="s" transform="translate(1698,367.5)"><use href="#B" class="ye"/><text class="f81"><tspan x="0" dy="-1.75em">Asked for</tspan><tspan x="0" dy="1.4em">clarification on</tspan><tspan x="0" dy="1.4em">task they were</tspan><tspan x="0" dy="1.4em">struggling with</tspan></text></g>
<g id="n25" class="s" transform="translate(1784.5,367.5)"><use href="#B" class="bl"/><text class="f74"><tspan x="0" dy="-2.45em">"This is my first</tspan><tspan x="0" dy="1.4em">time using the</tspan><tspan x="0" dy="1.4em">app, so I'm not</tspan><tspan x="0" dy="1.4em">sure where it</tspan><tspan x="0" dy="1.4em">would be"</tspan></text></g>
<g id="n31" class="s" transform="translate(1438.5,462.5)"><use href="#B" class="dp"/><text class="f105"><tspan x="0" dy="-1.75em">Suggested</tspan><tspan x="0" dy="1.4em">better</tspan><tspan x="0" dy="1.4em">intuitive</tspan><tspan x="0" dy="1.4em">design</tspan></text></g>
<g id="n32" class="s" transform="translate(1525,462.5)"><use href="#B" class="gr"/><text class="f105"><tspan x="0" dy="-1.75em">Verbal</tspan><tspan x="0" dy="1.4em">confusion,</tspan><tspan x="0" dy="1.4em">"wait</tspan><tspan x="0" dy="1.4em">what?"</tspan></text></g>
<g id="n33" class="s" transform="translate(1611.5,462.5)"><use href="#B" class="pu"/><text class="f81"><tspan x="0" dy="-2.45em">skipped task</tspan><tspan x="0" dy="1.4em">after it was</tspan><tspan x="0" dy="1.4em">taking longer</tspan><tspan x="0" dy="1.4em">than the other</tspan><tspan x="0" dy="1.4em">tasks</tspan></text></g>
<g id="n34" class="s" transform="translate(1698,462.5)"><use href="#B" class="gr"/><text class="f81"><tspan x="0" dy="-2.45em">Pretty talkative</tspan><tspan x="0" dy="1.4em">about their</tspan><tspan x="0" dy="1.4em">thought</tspan><tspan x="0" dy="1.4em">process about</tspan><tspan x="0" dy="1.4em">navigation</tspan></text></g>
<g id="n35" class="s" transform="translate(1784.5,462.5)"><use href="#B" class="vi"/><text class="f81"><tspan x="0" dy="-2.45em">"Once I</tspan><tspan x="0" dy="1.4em">realized there</tspan><tspan x="0" dy="1.4em">was a chat</tspan><tspan x="0" dy="1.4em">page, it made</tspan><tspan x="0" dy="1.4em">a lot of sense"</tspan></text></g>
<g id="n41" class="s" transform="translate(1438.5,557.5)"><use href="#B" class="bl"/><text class="f81"><tspan x="0" dy="-2.45em">Says "Why am</tspan><tspan x="0" dy="1.4em">I getting</tspan><tspan x="0" dy="1.4em">confused?"</tspan><tspan x="0" dy="1.4em">under their</tspan><tspan x="0" dy="1.4em">breath</tspan></text></g>
<g id="n42" class="s" transform="translate(1525,557.5)"><use href="#B" class="dp"/><text class="f59"><tspan x="0" dy="-2.45em">"Hm" and "Nope",</tspan><tspan x="0" dy="1.4em">more calm but still a</tspan><tspan x="0" dy="1.4em">bit disappointed</tspan><tspan x="0" dy="1.4em">when they couldn't</tspan><tspan x="0" dy="1.4em">find something</tspan></text></g>
<g id="n43" class="s" transform="translate(1611.5,557.5)"><use href="#B" class="li"/><text class="f105"><tspan x="0" dy="-1.05em">"there were</tspan><tspan x="0" dy="1.4em">too many</tspan><tspan x="0" dy="1.4em">options"</tspan></text></g>
<g id="n44" class="s" transform="translate(1698,557.5)"><use href="#B" class="or"/><text class="f105"><tspan x="0" dy="-1.75em">"wow I</tspan><tspan x="0" dy="1.4em">forgot I</tspan><tspan x="0" dy="1.4em">could</tspan><tspan x="0" dy="1.4em">swipe"</tspan></text></g>
<g id="n45" class="s" transform="translate(1784.5,557.5)"><use href="#B" class="lp"/><text class="f67"><tspan x="0" dy="-.35em">App is good, but</tspan><tspan x="0" dy="1.4em">"underdeveloped"</tspan></text></g>
<g id="n51" class="s" transform="translate(1438.5,652.5)"><use href="#B" class="gr"/><text class="f95"><tspan x="0" dy="-1.75em">Repeatedly</tspan><tspan x="0" dy="1.4em">looked</tspan><tspan x="0" dy="1.4em">through</tspan><tspan x="0" dy="1.4em">chat settings</tspan></text></g>
<g id="n52" class="s" transform="translate(1525,652.5)"><use href="#B" class="dp"/><text class="f105"><tspan x="0" dy="-1.75em">"I'm clicking</tspan><tspan x="0" dy="1.4em">around to</tspan><tspan x="0" dy="1.4em">see what</tspan><tspan x="0" dy="1.4em">shows up"</tspan></text></g>
<g id="n53" class="s" transform="translate(1611.5,652.5)"><use href="#B" class="lp"/><text class="f67"><tspan x="0" dy="-3.15em">"I think it was</tspan><tspan x="0" dy="1.4em">easy...I guess if I</tspan><tspan x="0" dy="1.4em">was more familiar</tspan><tspan x="0" dy="1.4em">with the app I</tspan><tspan x="0" dy="1.4em">would have</tspan><tspan x="0" dy="1.4em">noticed it"</tspan></text></g>
<g id="n54" class="s" transform="translate(1698,652.5)"><use href="#B" class="pu"/><text class="f67"><tspan x="0" dy="-1.75em">thought app was</tspan><tspan x="0" dy="1.4em">a good experience</tspan><tspan x="0" dy="1.4em">despite not being</tspan><tspan x="0" dy="1.4em">able to use it well</tspan></text></g>
</g>

<g id="positive" class="R">
<text class="h" x="1909" y="247" font-size="23">Positive</text>
<rect x="1908" y="269" width="336" height="358" rx="8" fill="#e5f1de"/>
<text class="mi" x="2231" y="620" style="fill:#d3e0cc;font-size:7px">miro</text>
<g id="p11" class="s" transform="translate(1985.5,347)"><use href="#C" class="lp"/><text class="f89"><tspan x="0" dy="-1.75em">pretty</tspan><tspan x="0" dy="1.4em">talkative and</tspan><tspan x="0" dy="1.4em">thorough</tspan><tspan x="0" dy="1.4em">with answers</tspan></text></g>
<g id="p12" class="s" transform="translate(2076,347)"><use href="#C" class="ye"/><text class="f81"><tspan x="0" dy="-2.45em">Relatively</tspan><tspan x="0" dy="1.4em">motivated to</tspan><tspan x="0" dy="1.4em">finish tasks</tspan><tspan x="0" dy="1.4em">regardless of</tspan><tspan x="0" dy="1.4em">difficulty</tspan></text></g>
<g id="p13" class="s" transform="translate(2167,347)"><use href="#C" class="vi"/><text class="f105"><tspan x="0" dy="-1.75em">Easy to use</tspan><tspan x="0" dy="1.4em">because it</tspan><tspan x="0" dy="1.4em">was</tspan><tspan x="0" dy="1.4em">familiar</tspan></text></g>
<g id="p21" class="s" transform="translate(1985.5,443.5)"><use href="#C" class="ly"/><text class="f81"><tspan x="0" dy="-1.75em">"features are</tspan><tspan x="0" dy="1.4em">similar to apps</tspan><tspan x="0" dy="1.4em">I used, it was</tspan><tspan x="0" dy="1.4em">pretty easy"</tspan></text></g>
<g id="p22" class="s" transform="translate(2076,443.5)"><use href="#C" class="bl"/><text class="f89"><tspan x="0" dy="-1.75em">Quickly</tspan><tspan x="0" dy="1.4em">agreed to</tspan><tspan x="0" dy="1.4em">skip task</tspan><tspan x="0" dy="1.4em">when offered</tspan></text></g>
<g id="p23" class="s" transform="translate(2167,443.5)"><use href="#C" class="gr"/><text class="f59"><tspan x="0" dy="-3.15em">Pretty motivated to</tspan><tspan x="0" dy="1.4em">finish tasks, kept</tspan><tspan x="0" dy="1.4em">saying they're "not</tspan><tspan x="0" dy="1.4em">sure" but refused to</tspan><tspan x="0" dy="1.4em">skip when given the</tspan><tspan x="0" dy="1.4em">option</tspan></text></g>
<g id="p31" class="s" transform="translate(1985.5,541)"><use href="#C" class="ye"/><text class="f81"><tspan x="0" dy="-2.45em">Clicked around</tspan><tspan x="0" dy="1.4em">randomly and</tspan><tspan x="0" dy="1.4em">was able to</tspan><tspan x="0" dy="1.4em">find all</tspan><tspan x="0" dy="1.4em">functions</tspan></text></g>
<g id="p32" class="s" transform="translate(2076,541)"><use href="#C" class="or"/><text class="f105"><tspan x="0" dy="-1.75em">generally</tspan><tspan x="0" dy="1.4em">talkative</tspan><tspan x="0" dy="1.4em">throughout</tspan><tspan x="0" dy="1.4em">all tasks</tspan></text></g>
<g id="p33" class="s" transform="translate(2167,541)"><use href="#C" class="bl"/><text class="f89"><tspan x="0" dy="-1.75em">"The more</tspan><tspan x="0" dy="1.4em">I'm using the</tspan><tspan x="0" dy="1.4em">app, the</tspan><tspan x="0" dy="1.4em">easier this is"</tspan></text></g>
</g>

<g id="negative" class="R">
<text class="h" x="1355" y="746" font-size="23">Negative</text>
<rect x="1355" y="768" width="767" height="645" rx="8" fill="#f7d4d8"/>
<text class="mi" x="2092" y="1396" style="fill:#dcb5ba;font-size:11px">miro</text>
<g id="g11" class="s" transform="translate(1431,845.5)"><use href="#C" class="or"/><text class="f81"><tspan x="0" dy="-1.75em">"settings seem</tspan><tspan x="0" dy="1.4em">misplaced and</tspan><tspan x="0" dy="1.4em">hard to</tspan><tspan x="0" dy="1.4em">access"</tspan></text></g>
<g id="g12" class="s" transform="translate(1508,845.5)"><use href="#C" class="pu"/><text class="f67"><tspan x="0" dy="-3.15em">apologizing,</tspan><tspan x="0" dy="1.4em">seemed</tspan><tspan x="0" dy="1.4em">uncomfortable</tspan><tspan x="0" dy="1.4em">after not being</tspan><tspan x="0" dy="1.4em">able to complete</tspan><tspan x="0" dy="1.4em">the task</tspan></text></g>
<g id="g13" class="s" transform="translate(1585,845.5)"><use href="#C" class="lp"/><text class="f81"><tspan x="0" dy="-2.45em">repeatedly</tspan><tspan x="0" dy="1.4em">tried to click</tspan><tspan x="0" dy="1.4em">on buttons</tspan><tspan x="0" dy="1.4em">although they</tspan><tspan x="0" dy="1.4em">didn't work</tspan></text></g>
<g id="g14" class="s" transform="translate(1661,845.5)"><use href="#C" class="ly"/><text class="f59"><tspan x="0" dy="-3.15em">When they couldn't</tspan><tspan x="0" dy="1.4em">find the leave option</tspan><tspan x="0" dy="1.4em">in the chat, got</tspan><tspan x="0" dy="1.4em">frustrated and said</tspan><tspan x="0" dy="1.4em">they feel like they</tspan><tspan x="0" dy="1.4em">couldn't find it</tspan></text></g>
<g id="g15" class="s" transform="translate(1738,845.5)"><use href="#C" class="bl"/><text class="f74"><tspan x="0" dy="-2.45em">Went through</tspan><tspan x="0" dy="1.4em">settings multiple</tspan><tspan x="0" dy="1.4em">times, tried to</tspan><tspan x="0" dy="1.4em">click unclickable</tspan><tspan x="0" dy="1.4em">buttons</tspan></text></g>
<g id="g16" class="s" transform="translate(1815,845.5)"><use href="#C" class="ye"/><text class="f81"><tspan x="0" dy="-2.45em">Didn't talk too</tspan><tspan x="0" dy="1.4em">much during</tspan><tspan x="0" dy="1.4em">tasks, didn't</tspan><tspan x="0" dy="1.4em">provide many</tspan><tspan x="0" dy="1.4em">insights</tspan></text></g>
<g id="g17" class="s" transform="translate(1892,845.5)"><use href="#C" class="li"/><text class="f105"><tspan x="0" dy="-1.75em">lack of</tspan><tspan x="0" dy="1.4em">verbalizing</tspan><tspan x="0" dy="1.4em">during</tspan><tspan x="0" dy="1.4em">tasks</tspan></text></g>
<g id="g18" class="s" transform="translate(1969,845.5)"><use href="#C" class="gr"/><text class="f81"><tspan x="0" dy="-2.45em">"I'm not used</tspan><tspan x="0" dy="1.4em">to going to my</tspan><tspan x="0" dy="1.4em">profile settings</tspan><tspan x="0" dy="1.4em">for a chat</tspan><tspan x="0" dy="1.4em">function"</tspan></text></g>
<g id="g19" class="s" transform="translate(2045,845.5)"><use href="#C" class="or"/><text class="f67"><tspan x="0" dy="-3.15em">near the end,</tspan><tspan x="0" dy="1.4em">seemed very</tspan><tspan x="0" dy="1.4em">frustrated and</tspan><tspan x="0" dy="1.4em">ready for the</tspan><tspan x="0" dy="1.4em">interview to be</tspan><tspan x="0" dy="1.4em">done</tspan></text></g>
<g id="g21" class="s" transform="translate(1431,942)"><use href="#C" class="vi"/><text class="f81"><tspan x="0" dy="-2.45em">Frustration by</tspan><tspan x="0" dy="1.4em">randomly</tspan><tspan x="0" dy="1.4em">clicking</tspan><tspan x="0" dy="1.4em">through</tspan><tspan x="0" dy="1.4em">prototype</tspan></text></g>
<g id="g22" class="s" transform="translate(1508,942)"><use href="#C" class="or"/><text class="f67"><tspan x="0" dy="-2.45em">clicked repeatedly</tspan><tspan x="0" dy="1.4em">on buttons and</tspan><tspan x="0" dy="1.4em">went down</tspan><tspan x="0" dy="1.4em">previous flows</tspan><tspan x="0" dy="1.4em">multiple times</tspan></text></g>
<g id="g23" class="s" transform="translate(1585,942)"><use href="#C" class="gr"/><text class="f67"><tspan x="0" dy="-3.15em">"A bit frustrating I</tspan><tspan x="0" dy="1.4em">had to go to</tspan><tspan x="0" dy="1.4em">something I</tspan><tspan x="0" dy="1.4em">wasn't used to</tspan><tspan x="0" dy="1.4em">and find the</tspan><tspan x="0" dy="1.4em">contact there"</tspan></text></g>
<g id="g24" class="s" transform="translate(1661,942)"><use href="#C" class="gr"/><text class="f59"><tspan x="0" dy="-3.85em">Sounded really</tspan><tspan x="0" dy="1.4em">confused when they</tspan><tspan x="0" dy="1.4em">couldn't find</tspan><tspan x="0" dy="1.4em">something and</tspan><tspan x="0" dy="1.4em">asked for</tspan><tspan x="0" dy="1.4em">clarification on the</tspan><tspan x="0" dy="1.4em">task</tspan></text></g>
<g id="g25" class="s" transform="translate(1738,942)"><use href="#C" class="dp"/><text class="f81"><tspan x="0" dy="-2.45em">Frustrated</tspan><tspan x="0" dy="1.4em">with having to</tspan><tspan x="0" dy="1.4em">check if it was</tspan><tspan x="0" dy="1.4em">a possible</tspan><tspan x="0" dy="1.4em">setting</tspan></text></g>
<g id="g26" class="s" transform="translate(1815,942)"><use href="#C" class="li"/><text class="f95"><tspan x="0" dy="-1.75em">didn't want</tspan><tspan x="0" dy="1.4em">to try a task,</tspan><tspan x="0" dy="1.4em">opted to just</tspan><tspan x="0" dy="1.4em">give ratings</tspan></text></g>
<g id="g27" class="s" transform="translate(1892,942)"><use href="#C" class="ye"/><text class="f81"><tspan x="0" dy="-1.75em">Look for more</tspan><tspan x="0" dy="1.4em">settings in</tspan><tspan x="0" dy="1.4em">settings was</tspan><tspan x="0" dy="1.4em">too much</tspan></text></g>
<g id="g28" class="s" transform="translate(1969,942)"><use href="#C" class="lp"/><text class="f74"><tspan x="0" dy="-2.45em">skipped start gc</tspan><tspan x="0" dy="1.4em">task after short</tspan><tspan x="0" dy="1.4em">amount of time,</tspan><tspan x="0" dy="1.4em">became more</tspan><tspan x="0" dy="1.4em">disinterested</tspan></text></g>
<g id="g29" class="s" transform="translate(2045,942)"><use href="#C" class="gr"/><text class="f81"><tspan x="0" dy="-2.45em">"I also still</tspan><tspan x="0" dy="1.4em">have no idea</tspan><tspan x="0" dy="1.4em">where it could</tspan><tspan x="0" dy="1.4em">be, its a lot of</tspan><tspan x="0" dy="1.4em">frustration"</tspan></text></g>
<g id="g31" class="s" transform="translate(1431,1038.5)"><use href="#C" class="gr"/><text class="f59"><tspan x="0" dy="-2.45em">"I think that's why it</tspan><tspan x="0" dy="1.4em">was so frustrating, I</tspan><tspan x="0" dy="1.4em">couldn't find it</tspan><tspan x="0" dy="1.4em">anywhere that was</tspan><tspan x="0" dy="1.4em">easily accessible"</tspan></text></g>
<g id="g32" class="s" transform="translate(1508,1038.5)"><use href="#C" class="lp"/><text class="f64"><tspan x="0" dy="-2.45em">suggested share</tspan><tspan x="0" dy="1.4em">link feature would</tspan><tspan x="0" dy="1.4em">be hidden to</tspan><tspan x="0" dy="1.4em">people who aren't</tspan><tspan x="0" dy="1.4em">as tech savvy</tspan></text></g>
<g id="g33" class="s" transform="translate(1585,1038.5)"><use href="#C" class="ye"/><text class="f105"><tspan x="0" dy="-1.75em">"It was too</tspan><tspan x="0" dy="1.4em">hard, it was</tspan><tspan x="0" dy="1.4em">hidden so</tspan><tspan x="0" dy="1.4em">much"</tspan></text></g>
<g id="g34" class="s" transform="translate(1661,1038.5)"><use href="#C" class="pu"/><text class="f57"><tspan x="0" dy="-3.15em">"I had trouble trying</tspan><tspan x="0" dy="1.4em">to find and send the</tspan><tspan x="0" dy="1.4em">link because it's my</tspan><tspan x="0" dy="1.4em">first time using the</tspan><tspan x="0" dy="1.4em">app and takes some</tspan><tspan x="0" dy="1.4em">time to adjust to"</tspan></text></g>
<g id="g35" class="s" transform="translate(1738,1038.5)"><use href="#C" class="ly"/><text class="f67"><tspan x="0" dy="-2.45em">Got embarrassed</tspan><tspan x="0" dy="1.4em">about not</tspan><tspan x="0" dy="1.4em">remembering a</tspan><tspan x="0" dy="1.4em">feature from a</tspan><tspan x="0" dy="1.4em">previous task</tspan></text></g>
<g id="g36" class="s" transform="translate(1815,1038.5)"><use href="#C" class="ly"/><text class="f59"><tspan x="0" dy="-3.15em">was really frustrated</tspan><tspan x="0" dy="1.4em">with the start gc</tspan><tspan x="0" dy="1.4em">feature because</tspan><tspan x="0" dy="1.4em">they have never</tspan><tspan x="0" dy="1.4em">seen it on another</tspan><tspan x="0" dy="1.4em">app before</tspan></text></g>
<g id="g37" class="s" transform="translate(1892,1038.5)"><use href="#C" class="or"/><text class="f81"><tspan x="0" dy="-2.45em">going "nooo"</tspan><tspan x="0" dy="1.4em">after every</tspan><tspan x="0" dy="1.4em">time went</tspan><tspan x="0" dy="1.4em">down an</tspan><tspan x="0" dy="1.4em">incorrect flow</tspan></text></g>
<g id="g38" class="s" transform="translate(1969,1038.5)"><use href="#C" class="ly"/><text class="f67"><tspan x="0" dy="-3.15em">Apologized and</tspan><tspan x="0" dy="1.4em">asked for</tspan><tspan x="0" dy="1.4em">clarification on</tspan><tspan x="0" dy="1.4em">tasks often,</tspan><tspan x="0" dy="1.4em">seemed pretty</tspan><tspan x="0" dy="1.4em">nervous</tspan></text></g>
<g id="g39" class="s" transform="translate(2045,1038.5)"><use href="#C" class="pu"/><text class="f89"><tspan x="0" dy="-1.75em">didn't</tspan><tspan x="0" dy="1.4em">verbalize as</tspan><tspan x="0" dy="1.4em">much as they</tspan><tspan x="0" dy="1.4em">navigated</tspan></text></g>
<g id="g41" class="s" transform="translate(1431,1135)"><use href="#C" class="lp"/><text class="f59"><tspan x="0" dy="-3.15em">sighed out of</tspan><tspan x="0" dy="1.4em">annoyance, kept</tspan><tspan x="0" dy="1.4em">complaining about</tspan><tspan x="0" dy="1.4em">buttons not being in</tspan><tspan x="0" dy="1.4em">places she expected</tspan><tspan x="0" dy="1.4em">them</tspan></text></g>
<g id="g42" class="s" transform="translate(1508,1135)"><use href="#C" class="vi"/><text class="f105"><tspan x="0" dy="-1.75em">Barely</tspan><tspan x="0" dy="1.4em">talked</tspan><tspan x="0" dy="1.4em">during</tspan><tspan x="0" dy="1.4em">tasks</tspan></text></g>
<g id="g43" class="s" transform="translate(1585,1135)"><use href="#C" class="li"/><text class="f81"><tspan x="0" dy="-2.45em">did not talk</tspan><tspan x="0" dy="1.4em">during task,</tspan><tspan x="0" dy="1.4em">personally</tspan><tspan x="0" dy="1.4em">asked to skip</tspan><tspan x="0" dy="1.4em">task</tspan></text></g>
<g id="g44" class="s" transform="translate(1661,1135)"><use href="#C" class="lp"/><text class="f105"><tspan x="0" dy="-1.75em">"The task is</tspan><tspan x="0" dy="1.4em">right here,</tspan><tspan x="0" dy="1.4em">I'm so</tspan><tspan x="0" dy="1.4em">stupid."</tspan></text></g>
<g id="g45" class="s" transform="translate(1738,1135)"><use href="#C" class="gr"/><text class="f55"><tspan x="0" dy="-3.85em">Motivated in beginning,</tspan><tspan x="0" dy="1.4em">but lost motivation as</tspan><tspan x="0" dy="1.4em">they got more</tspan><tspan x="0" dy="1.4em">confused, gave up on a</tspan><tspan x="0" dy="1.4em">task after going</tspan><tspan x="0" dy="1.4em">through the settings</tspan><tspan x="0" dy="1.4em">multiple times</tspan></text></g>
<g id="g46" class="s" transform="translate(1815,1135)"><use href="#C" class="ye"/><text class="f67"><tspan x="0" dy="-3.15em">Thought contact</tspan><tspan x="0" dy="1.4em">list was scattered</tspan><tspan x="0" dy="1.4em">and didn't have</tspan><tspan x="0" dy="1.4em">an order or what</tspan><tspan x="0" dy="1.4em">class they</tspan><tspan x="0" dy="1.4em">belonged to</tspan></text></g>
<g id="g47" class="s" transform="translate(1892,1135)"><use href="#C" class="vi"/><text class="f59"><tspan x="0" dy="-3.15em">Not motivated to</tspan><tspan x="0" dy="1.4em">finish task, skipped</tspan><tspan x="0" dy="1.4em">when given the</tspan><tspan x="0" dy="1.4em">option, just wanted</tspan><tspan x="0" dy="1.4em">to be done with the</tspan><tspan x="0" dy="1.4em">interview</tspan></text></g>
<g id="g48" class="s" transform="translate(1969,1135)"><use href="#C" class="bl"/><text class="f67"><tspan x="0" dy="-3.15em">Didn't share any</tspan><tspan x="0" dy="1.4em">insights on their</tspan><tspan x="0" dy="1.4em">thought process,</tspan><tspan x="0" dy="1.4em">occasionally</tspan><tspan x="0" dy="1.4em">verbalized their</tspan><tspan x="0" dy="1.4em">navigation</tspan></text></g>
<g id="g49" class="s" transform="translate(2045,1135)"><use href="#C" class="vi"/><text class="f81"><tspan x="0" dy="-1.75em">Suggested</tspan><tspan x="0" dy="1.4em">there should</tspan><tspan x="0" dy="1.4em">be less pages,</tspan><tspan x="0" dy="1.4em">less clicking</tspan></text></g>
<g id="g51" class="s" transform="translate(1431,1231.5)"><use href="#C" class="pu"/><text class="f81"><tspan x="0" dy="-.35em">lots of</tspan><tspan x="0" dy="1.4em">tapping/clicking</tspan></text></g>
<g id="g52" class="s" transform="translate(1508,1231.5)"><use href="#C" class="gr"/><text class="f46"><tspan x="0" dy="-4.55em">started to rely on settings</tspan><tspan x="0" dy="1.4em">to find functions rather</tspan><tspan x="0" dy="1.4em">than looking for more</tspan><tspan x="0" dy="1.4em">accessible way to see</tspan><tspan x="0" dy="1.4em">functions, "I was thrown off</tspan><tspan x="0" dy="1.4em">by the earlier tasks, so I</tspan><tspan x="0" dy="1.4em">tried to look through all the</tspan><tspan x="0" dy="1.4em">settings"</tspan></text></g>
<g id="g53" class="s" transform="translate(1585,1231.5)"><use href="#C" class="ly"/><text class="f67"><tspan x="0" dy="-3.15em">Says search icon</tspan><tspan x="0" dy="1.4em">for contact list</tspan><tspan x="0" dy="1.4em">was helpful,</tspan><tspan x="0" dy="1.4em">because the task</tspan><tspan x="0" dy="1.4em">said to "search for</tspan><tspan x="0" dy="1.4em">a person"</tspan></text></g>
<g id="g54" class="s" transform="translate(1661,1231.5)"><use href="#C" class="li"/><text class="f138"><tspan x="0" dy="-.35em">nervous</tspan><tspan x="0" dy="1.4em">laughter</tspan></text></g>
<g id="g55" class="s" transform="translate(1738,1231.5)"><use href="#C" class="ly"/><text class="f74"><tspan x="0" dy="-2.45em">"It was new, and</tspan><tspan x="0" dy="1.4em">whenever [the</tspan><tspan x="0" dy="1.4em">app] is kinda</tspan><tspan x="0" dy="1.4em">new, I get kinda</tspan><tspan x="0" dy="1.4em">frustrated"</tspan></text></g>
<g id="g56" class="s" transform="translate(1815,1231.5)"><use href="#C" class="gr"/><text class="f59"><tspan x="0" dy="-3.15em">not finding</tspan><tspan x="0" dy="1.4em">something where</tspan><tspan x="0" dy="1.4em">they expected it to</tspan><tspan x="0" dy="1.4em">be, repeatedly said</tspan><tspan x="0" dy="1.4em">they were "not sure</tspan><tspan x="0" dy="1.4em">to be honest"</tspan></text></g>
<g id="g57" class="s" transform="translate(1892,1231.5)"><use href="#C" class="bl"/><text class="f59"><tspan x="0" dy="-3.15em">Didn't get too</tspan><tspan x="0" dy="1.4em">frustrated, said they</tspan><tspan x="0" dy="1.4em">thought it was fun</tspan><tspan x="0" dy="1.4em">afterwards because</tspan><tspan x="0" dy="1.4em">they got to click</tspan><tspan x="0" dy="1.4em">around</tspan></text></g>
<g id="g58" class="s" transform="translate(1969,1231.5)"><use href="#C" class="dp"/><text class="f74"><tspan x="0" dy="-2.45em">complicated</tspan><tspan x="0" dy="1.4em">settings, "not a</tspan><tspan x="0" dy="1.4em">lot of places to</tspan><tspan x="0" dy="1.4em">check but still a</tspan><tspan x="0" dy="1.4em">lot of checking"</tspan></text></g>
<g id="g59" class="s" transform="translate(2045,1231.5)"><use href="#C" class="dp"/><text class="f81"><tspan x="0" dy="-2.45em">Suggested</tspan><tspan x="0" dy="1.4em">contact list</tspan><tspan x="0" dy="1.4em">should be</tspan><tspan x="0" dy="1.4em">presented in a</tspan><tspan x="0" dy="1.4em">certain order</tspan></text></g>
<g id="g61" class="s" transform="translate(1431,1328)"><use href="#C" class="gr"/><text class="f59"><tspan x="0" dy="-3.15em">Called app very</tspan><tspan x="0" dy="1.4em">"streamlined" and</tspan><tspan x="0" dy="1.4em">"simple", although</tspan><tspan x="0" dy="1.4em">they were frustrated</tspan><tspan x="0" dy="1.4em">and struggled with a</tspan><tspan x="0" dy="1.4em">lot of the tasks</tspan></text></g>
<g id="g62" class="s" transform="translate(1508,1328)"><use href="#C" class="gr"/><text class="f67"><tspan x="0" dy="-2.45em">Hm's and Um's,</tspan><tspan x="0" dy="1.4em">when they</tspan><tspan x="0" dy="1.4em">followed a flow</tspan><tspan x="0" dy="1.4em">and didn't find</tspan><tspan x="0" dy="1.4em">what they needed</tspan></text></g>
<g id="g63" class="s" transform="translate(1585,1328)"><use href="#C" class="dp"/><text class="f81"><tspan x="0" dy="-2.45em">could be more</tspan><tspan x="0" dy="1.4em">intuitive if</tspan><tspan x="0" dy="1.4em">there weren't</tspan><tspan x="0" dy="1.4em">so many pages</tspan><tspan x="0" dy="1.4em">within settings</tspan></text></g>
<g id="g64" class="s" transform="translate(1661,1328)"><use href="#C" class="bl"/><text class="f67"><tspan x="0" dy="-3.15em">Thought app was</tspan><tspan x="0" dy="1.4em">very organized,</tspan><tspan x="0" dy="1.4em">easy to use, and</tspan><tspan x="0" dy="1.4em">simple aside from</tspan><tspan x="0" dy="1.4em">the two tasks they</tspan><tspan x="0" dy="1.4em">weren't able to do</tspan></text></g>
<g id="g65" class="s" transform="translate(1738,1328)"><use href="#C" class="ye"/><text class="f105"><tspan x="0" dy="-1.75em">"That's</tspan><tspan x="0" dy="1.4em">hard" with</tspan><tspan x="0" dy="1.4em">nervous</tspan><tspan x="0" dy="1.4em">laughter</tspan></text></g>
<g id="g66" class="s" transform="translate(1815,1328)"><use href="#C" class="li"/><text class="f74"><tspan x="0" dy="-2.45em">"app is</tspan><tspan x="0" dy="1.4em">straightforward</tspan><tspan x="0" dy="1.4em">once you figure</tspan><tspan x="0" dy="1.4em">out where</tspan><tspan x="0" dy="1.4em">everything is"</tspan></text></g>
</g>
</svg>
